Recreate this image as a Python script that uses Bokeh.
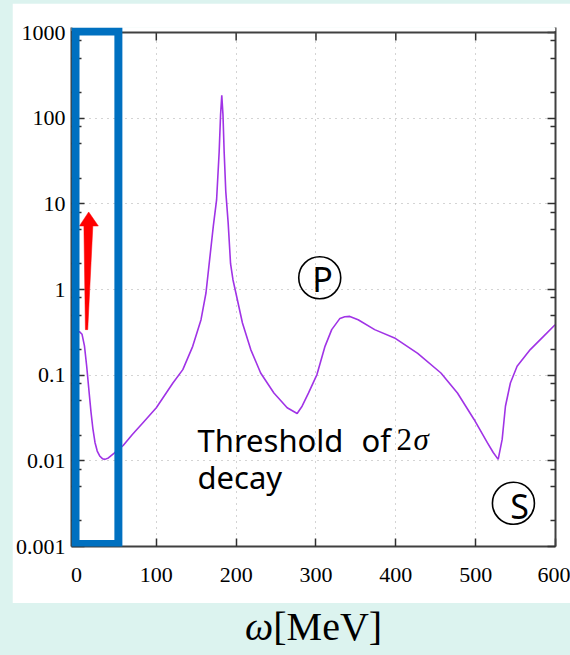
from bokeh.plotting import figure
from bokeh.layouts import column
from bokeh.models import Range1d, FixedTicker, LogAxis, Label, BoxAnnotation, CustomJSTickFormatter, Div
from bokeh.embed import file_html
from bokeh.resources import INLINE

# ---- data ----
omega = [0, 4, 7, 10, 12.8, 15.5, 18.2, 20.5, 23.2, 26, 29.4, 32.5, 35.6, 40, 46.9, 58.5, 70, 83.3,
         100, 120.8, 133.2, 145.6, 156, 162.2, 167.2, 171.4, 175.5, 178.7, 180.5, 182, 183.5, 185,
         187, 190, 193, 196, 198.3, 207.9, 218.3, 230.7, 247.3, 263.9, 276.4, 282.6, 290.7, 301.2,
         311.3, 319.7, 330, 336, 342.4, 352.8, 373.5, 398.4, 427.4, 456.5, 477.2, 498, 514.6, 522,
         528.2, 533.2, 537.3, 543.5, 551.9, 568.4, 585, 599.5]
strength = [0.32, 0.32, 0.30, 0.22, 0.127, 0.068, 0.037, 0.024, 0.0164, 0.0130, 0.0113, 0.0106,
            0.0104, 0.0108, 0.0122, 0.0151, 0.0203, 0.0279,
            0.0416, 0.081, 0.116, 0.217, 0.444, 0.91, 2.42, 5.5, 11.1, 40, 110, 185, 110, 40,
            14, 6, 2.0, 1.3, 1.04, 0.406, 0.199, 0.106, 0.062, 0.0416, 0.0357, 0.0434, 0.062, 0.1016,
            0.217, 0.34, 0.46, 0.48, 0.485, 0.444, 0.34, 0.272, 0.18, 0.106, 0.062, 0.0304, 0.0163,
            0.0125, 0.0104, 0.0178, 0.0434, 0.081, 0.127, 0.199, 0.284, 0.388]

x_ticks = [0, 100, 200, 300, 400, 500, 600]
y_ticks = [0.001, 0.01, 0.1, 1, 10, 100, 1000]
y_tick_labels = ["0.001", "0.01", "0.1", "1", "10", "100", "1000"]
y_minor = [m * 10.0 ** e for e in range(-3, 3) for m in (2, 5, 8)]

# annotations (data coordinates)
arrow_x = [15.3, 27.4, 20.5, 14.1, 11.2, 9.3, 3.7]
arrow_y = [8.03, 5.51, 5.51, 0.34, 0.34, 5.51, 5.51]
circle_x = [304.7, 547.3]
circle_y = [1.37, 0.0032]
highlight = dict(left=-1.2, right=52.5, bottom=0.00107, top=1030)

CYAN = "#dcf3ef"
OX, OY = 12, 3                       # white card offset inside the page
FL, FR, FB = 68, 555, 546            # frame edges in page pixels
AXIS_TOP = 32                        # y pixel of the value 1000
FT = 27                              # frame top (a little above the axis box so the blue box is not cut)
W, H = 570, 655
CARD_BOTTOM = 603
PX_PER_UNIT = (FR - 73) / 600.0
PX_PER_DEC = (FB - AXIS_TOP) / 6.0
x_start = -(73 - FL) / PX_PER_UNIT
y_max = 1000 * 10 ** ((AXIS_TOP - FT) / PX_PER_DEC)

p = figure(width=W - OX, height=CARD_BOTTOM - OY, x_range=Range1d(x_start, 600),
           y_range=Range1d(0.001, y_max), y_axis_type="log", output_backend="svg",
           toolbar_location=None, min_border_left=FL - OX, min_border_right=W - FR,
           min_border_top=FT - OY, min_border_bottom=CARD_BOTTOM - FB,
           border_fill_color="white", background_fill_color="white", margin=(OY, 0, 0, OX))
p.outline_line_color = None

def style_axis(ax, labels=True, tin=8, mtin=5):
    ax.axis_line_color = "#404040"
    ax.axis_line_width = 2
    ax.major_tick_in = tin
    ax.major_tick_out = 0
    ax.major_tick_line_color = "#303030"
    ax.major_tick_line_width = 1.5
    ax.minor_tick_in = mtin
    ax.minor_tick_out = 0
    ax.minor_tick_line_color = "#303030"
    ax.minor_tick_line_width = 1.5
    if labels:
        ax.major_label_text_font = "Liberation Sans Narrow"
        ax.major_label_text_font_size = "22px"
        ax.major_label_text_color = "black"
    else:
        ax.major_label_text_font_size = "0px"
        ax.major_label_standoff = 0
        ax.formatter = CustomJSTickFormatter(code="return ''")

xb = p.xaxis[0]
xb.ticker = FixedTicker(ticks=x_ticks)
style_axis(xb)
xb.major_label_standoff = 21

yl = p.yaxis[0]
yl.ticker = FixedTicker(ticks=y_ticks, minor_ticks=y_minor)
yl.major_label_overrides = dict(zip(y_ticks, y_tick_labels))
style_axis(yl, tin=13, mtin=10)
yl.major_label_standoff = 6

right_ax = LogAxis(ticker=FixedTicker(ticks=y_ticks, minor_ticks=y_minor))
style_axis(right_ax, labels=False)
p.add_layout(right_ax, "right")

p.xgrid.ticker = FixedTicker(ticks=x_ticks)
p.ygrid.ticker = FixedTicker(ticks=y_ticks)
for g in (p.xgrid[0], p.ygrid[0]):
    g.grid_line_color = "#a8a8a8"
    g.grid_line_dash = "1 5"
    g.grid_line_width = 1

# top edge of the axis box (value 1000) with inward ticks
top_y = y_ticks[-1]
tick_end = top_y / 10 ** (8 / PX_PER_DEC)
p.segment(x0=x_ticks[1:-1], y0=[top_y] * 5, x1=x_ticks[1:-1], y1=[tick_end] * 5,
          line_color="#303030", line_width=1.5)

p.line(omega, strength, line_color="#a033e6", line_width=1.6)
p.patch(arrow_x, arrow_y, fill_color="#ff0000", line_color="#ff0000", line_width=0.5)
p.scatter(circle_x, circle_y, marker="circle", size=42, fill_alpha=0, line_color="black", line_width=1.6)

# blank strip above the axis box (hides grid dots there)
p.add_layout(BoxAnnotation(bottom=top_y * 10 ** (1.5 / PX_PER_DEC), fill_color="white", fill_alpha=1,
                           line_alpha=0))
p.add_layout(BoxAnnotation(bottom=top_y * 10 ** (-1 / PX_PER_DEC), top=top_y * 10 ** (1 / PX_PER_DEC),
                           fill_color="#404040", fill_alpha=1, line_alpha=0))
p.add_layout(BoxAnnotation(line_color="#0070c0", line_alpha=1, line_width=8, line_join="miter",
                           fill_alpha=0, **highlight))

YFIX = 14  # empirical baseline correction for screen-unit labels

def lab(text, sx, sy, size, font="Noto Sans", style="normal", align="left"):
    p.add_layout(Label(x=sx - FL, y=FB - sy + YFIX, x_units="screen", y_units="screen", text=text,
                       text_font=font, text_font_size=size, text_font_style=style,
                       text_align=align, text_baseline="alphabetic", text_color="black"))

lab("Threshold", 194, 453, "31px")
lab("of", 358, 453, "31px")
lab("2", 393, 453, "31px", font="Liberation Serif")
lab("σ", 410, 453, "31px", font="Liberation Serif", style="italic")
lab("decay", 194, 490, "31px")
lab("P", 319, 292, "34px", align="center")
lab("S", 516, 519, "34px", align="center")

# axis title strip below the card (HTML text)
title_html = ('<div style="font-family:\'Liberation Serif\',serif;font-size:40px;line-height:40px;'
              'color:black;white-space:nowrap;padding-left:245px;padding-top:4px;">'
              '<i>ω</i>[MeV]</div>')
q = Div(text=title_html, width=W, height=H - CARD_BOTTOM, margin=(0, 0, 0, 0),
        styles={"background-color": CYAN})

layout = column(p, q, spacing=0, styles={"background-color": CYAN}, width=W, height=H)
open("out.html", "w").write(file_html(layout, INLINE))
